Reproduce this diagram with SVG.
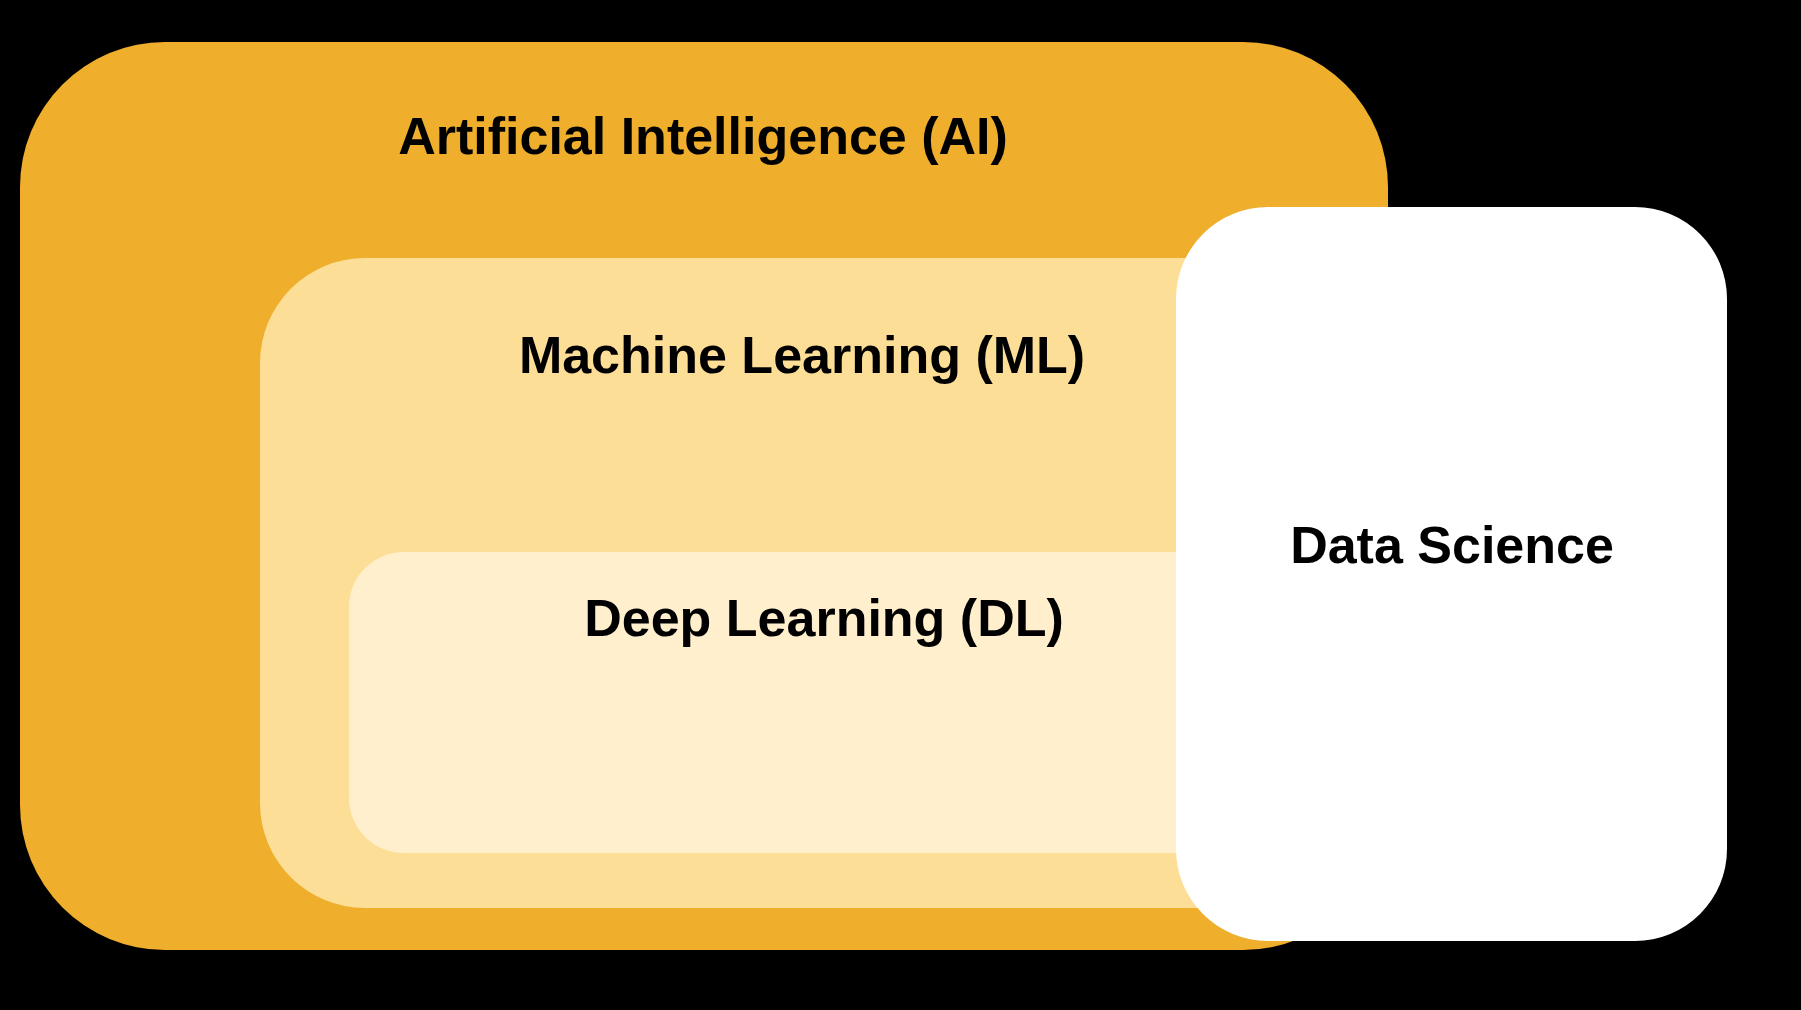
<svg xmlns="http://www.w3.org/2000/svg" width="1801" height="1010" viewBox="0 0 1801 1010">
  <style>
    .lbl { font-family: "Liberation Sans", Arial, sans-serif; font-weight: bold; font-size: 52px; fill: #000000; text-anchor: middle; }
  </style>
  <rect x="0" y="0" width="1801" height="1010" fill="#000000"/>
  <g id="node-ai">
    <rect x="20" y="42" width="1368" height="908" rx="145" ry="145" fill="#EFAE2B"/>
    <text class="lbl" x="703" y="154">Artificial Intelligence (AI)</text>
  </g>
  <g id="node-ml">
    <rect x="260" y="258" width="1040" height="650" rx="105" ry="105" fill="#FDDE97"/>
    <text class="lbl" x="802" y="373">Machine Learning (ML)</text>
  </g>
  <g id="node-dl">
    <rect x="349" y="552" width="900" height="301" rx="55" ry="55" fill="#FFEFCD"/>
    <text class="lbl" x="824" y="636">Deep Learning (DL)</text>
  </g>
  <g id="node-ds">
    <rect x="1176" y="207" width="551" height="734" rx="92" ry="92" fill="#FFFFFF"/>
    <text class="lbl" x="1452" y="563">Data Science</text>
  </g>
  <g id="connectors"></g>
</svg>
